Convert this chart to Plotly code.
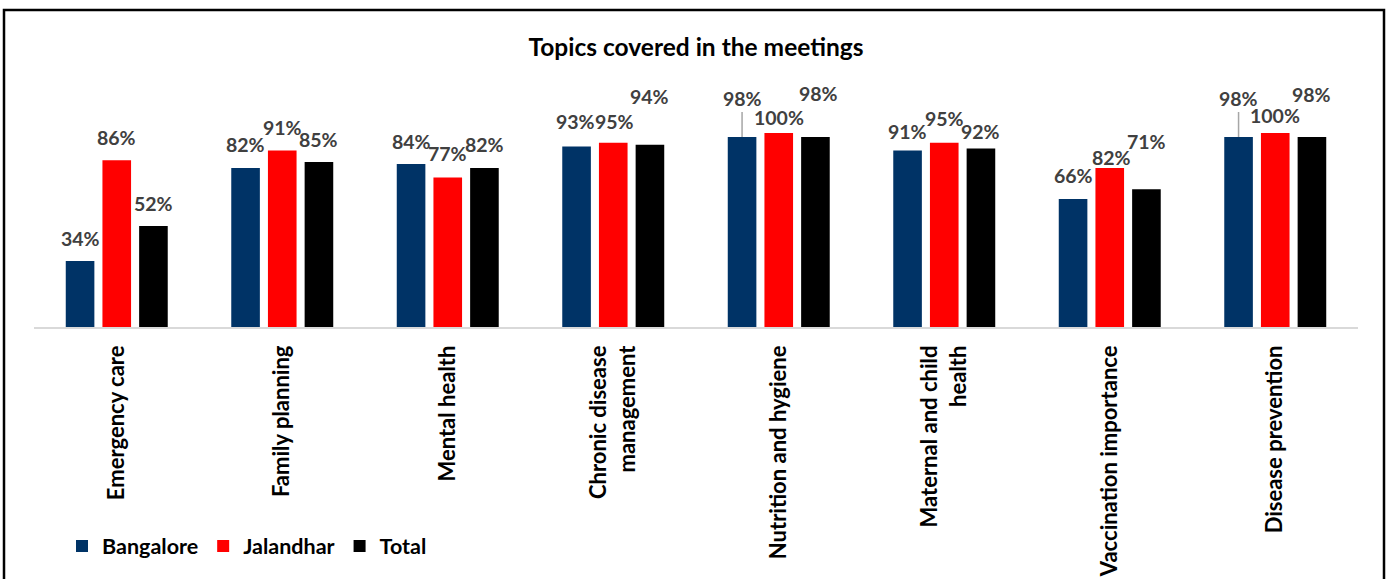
import plotly.graph_objects as go

categories = ["Emergency care", "Family planning", "Mental health",
              "Chronic disease<br>management", "Nutrition and hygiene",
              "Maternal and child<br>health", "Vaccination importance",
              "Disease prevention"]
bangalore = [34, 82, 84, 93, 98, 91, 66, 98]
jalandhar = [86, 91, 77, 95, 100, 95, 82, 100]
total = [52, 85, 82, 94, 98, 92, 71, 98]

series = [("Bangalore", bangalore, "#003366"),
          ("Jalandhar", jalandhar, "#FF0000"),
          ("Total", total, "#000000")]

# label placement tweaks (pixels above the bar top, extra x shift, leader line)
label_dy = [
    [23, 23, 23, 25, 38, 19, 23, 38],
    [23, 23, 24, 21, 16, 24, 10, 18],
    [23, 23, 23, 48, 43, 17, 48, 42],
]
label_dx = [
    [0, 0, 0, -1, 0, 0, 0, 0],
    [0, 0, 0, 1, 0, 0, 2, 0],
    [0, 0, 0, 0, 3, 0, 0, 0],
]
leader = [
    [False, False, False, False, True, False, False, True],
    [False] * 8,
    [False] * 8,
]

FONT = "Lato"
BARGAP = 0.335
GROUPGAP = 0.22

fig = go.Figure()
for name, vals, col in series:
    fig.add_trace(go.Bar(name=name, x=categories, y=vals,
                         marker=dict(color=col, line=dict(width=0))))

slot = (1 - BARGAP) / 3
lab_font = dict(family=FONT, size=19.5, color="#404040", weight="bold")
annotations = []
for k, (name, vals, col) in enumerate(series):
    off = (k - 1) * slot
    for i, v in enumerate(vals):
        if leader[k][i]:
            annotations.append(dict(
                x=i + off, y=v, xref="x", yref="y", text=f"{v}%",
                showarrow=True, arrowhead=0, arrowwidth=1.5, arrowcolor="#A6A6A6",
                ax=label_dx[k][i], ay=-label_dy[k][i], standoff=0,
                font=lab_font))
        else:
            annotations.append(dict(
                x=i + off, y=v, xref="x", yref="y", text=f"{v}%",
                showarrow=False, yanchor="middle", xanchor="center",
                yshift=label_dy[k][i], xshift=label_dx[k][i],
                font=lab_font))

W, H = 1388, 579
L, R, T, B = 34, 30, 60, 252
ph = H - T - B
pw = W - L - R
px_per_unit = 194 / 100
ytop = ph / px_per_unit

fig.update_layout(
    width=W, height=H,
    margin=dict(l=L, r=R, t=T, b=B, autoexpand=False),
    paper_bgcolor="white", plot_bgcolor="white",
    barmode="group", bargap=BARGAP, bargroupgap=GROUPGAP,
    title=dict(text="<b>Topics covered in the meetings</b>", x=0.5, xref="paper",
               xanchor="center", y=1 - 47 / H, yanchor="middle",
               font=dict(family=FONT, size=24.5, color="#000000")),
    xaxis=dict(showline=True, linecolor="#D9D9D9", linewidth=1.5, ticks="",
               tickangle=-90, ticklabelstandoff=8,
               tickfont=dict(family=FONT, size=22, color="#000000", weight="bold"),
               showgrid=False),
    yaxis=dict(range=[0, ytop], visible=False, showgrid=False, zeroline=False),
    legend=dict(orientation="h", x=(62 - L) / pw, xanchor="left",
                y=(T + ph - 546) / ph, yanchor="middle",
                font=dict(family=FONT, size=21.5, color="#000000", weight="bold"),
                bgcolor="rgba(0,0,0,0)", itemclick=False),
    annotations=annotations,
    shapes=[dict(type="rect", xref="paper", yref="paper",
                 x0=(4 - L) / pw, x1=(1384 - L) / pw,
                 y0=-1.5, y1=(T + ph - 10) / ph,
                 line=dict(color="#000000", width=2.5), fillcolor="rgba(0,0,0,0)",
                 layer="below")],
)

fig.write_html("out.html")
